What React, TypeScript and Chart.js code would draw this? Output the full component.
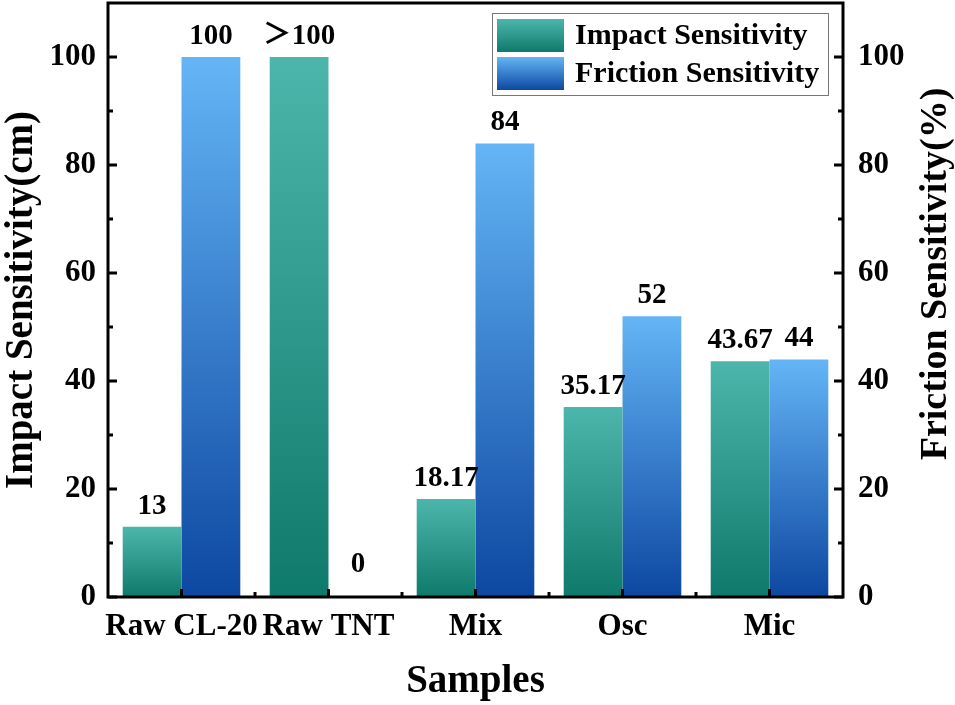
import { useEffect, useRef } from "react";
import { Chart, registerables } from "chart.js";
import type { Plugin, ScriptableContext, Scale } from "chart.js";

Chart.register(...registerables);

const categories = ["Raw CL-20", "Raw TNT", "Mix", "Osc", "Mic"];
const impactValues = [13, 100, 18.17, 35.17, 43.67];
const frictionValues = [100, 0, 84, 52, 44];
const impactLabels = ["13", "＞100", "18.17", "35.17", "43.67"];
const frictionLabels = ["100", "0", "84", "52", "44"];
const yTicks = [0, 20, 40, 60, 80, 100];
const minorTicks = [10, 30, 50, 70, 90];

const SERIF = "'Liberation Serif', 'Times New Roman', 'Noto Sans CJK SC', serif";
const TEAL = ["#4DB6AC", "#0E7A6B"];
const BLUE = ["#64B5F6", "#0D47A1"];

function barGradient(ctx: ScriptableContext<"bar">, colors: string[], axis: string) {
  const chart = ctx.chart;
  const scale = chart.scales[axis];
  if (ctx.type !== "data" || !scale) return colors[0];
  const v = ctx.raw as number;
  const y0 = scale.getPixelForValue(v);
  const y1 = scale.getPixelForValue(0);
  if (!isFinite(y0) || !isFinite(y1) || y1 - y0 < 1) return colors[0];
  const g = chart.ctx.createLinearGradient(0, y0, 0, y1);
  g.addColorStop(0, colors[0]);
  g.addColorStop(1, colors[1]);
  return g;
}

const noPad = (s: Scale) => {
  s.paddingTop = 0;
  s.paddingBottom = 0;
  s.paddingLeft = 0;
  s.paddingRight = 0;
};

const framePlugin: Plugin = {
  id: "frame",
  afterDatasetsDraw: (chart) => {
    const { ctx, chartArea: a, scales } = chart;
    ctx.save();
    // value labels above bars (zero bars get theirs a bit higher)
    ctx.font = `bold 29px ${SERIF}`;
    ctx.fillStyle = "#000";
    ctx.textAlign = "center";
    ctx.textBaseline = "alphabetic";
    const values = [impactValues, frictionValues];
    [impactLabels, frictionLabels].forEach((labels, di) => {
      const meta = chart.getDatasetMeta(di);
      meta.data.forEach((el: any, i) => {
        const off = values[di][i] === 0 ? 25 : 13;
        ctx.fillText(labels[i], el.x, el.y - off);
      });
    });

    // axis frame
    ctx.strokeStyle = "#000";
    ctx.lineWidth = 3;
    ctx.strokeRect(a.left, a.top, a.right - a.left, a.bottom - a.top);

    // inward ticks on both y axes
    const yl = scales.y;
    const all = [...yTicks.map((v) => [v, 9]), ...minorTicks.map((v) => [v, 5])];
    all.forEach(([v, len]) => {
      const py = yl.getPixelForValue(v);
      ctx.beginPath();
      ctx.moveTo(a.left, py);
      ctx.lineTo(a.left + len, py);
      ctx.moveTo(a.right, py);
      ctx.lineTo(a.right - len, py);
      ctx.stroke();
    });

    // bottom ticks: major at categories, minor between
    const xs = scales.x;
    categories.forEach((_, i) => {
      const px = xs.getPixelForValue(i);
      ctx.beginPath();
      ctx.moveTo(px, a.bottom);
      ctx.lineTo(px, a.bottom - 8);
      ctx.stroke();
      if (i < categories.length - 1) {
        const mx = (px + xs.getPixelForValue(i + 1)) / 2;
        ctx.beginPath();
        ctx.moveTo(mx, a.bottom);
        ctx.lineTo(mx, a.bottom - 5);
        ctx.stroke();
      }
    });

    // right axis title, reading bottom to top like the left one
    ctx.save();
    ctx.translate(chart.width - 19, (a.top + a.bottom) / 2 - 26);
    ctx.rotate(-Math.PI / 2);
    ctx.font = `bold 38px ${SERIF}`;
    ctx.textAlign = "center";
    ctx.textBaseline = "middle";
    ctx.fillText("Friction Sensitivity(%)", 0, 0);
    ctx.restore();

    // legend box
    const bw = 336;
    const bh = 82;
    const bx = a.right - 15 - bw;
    const by = a.top + 10;
    ctx.lineWidth = 1;
    ctx.strokeStyle = "#777";
    ctx.fillStyle = "#fff";
    ctx.fillRect(bx, by, bw, bh);
    ctx.strokeRect(bx + 0.5, by + 0.5, bw, bh);
    const items: [string, string[]][] = [
      ["Impact Sensitivity", TEAL],
      ["Friction Sensitivity", BLUE],
    ];
    items.forEach(([label, colors], i) => {
      const sy = by + 6 + i * 38;
      const g = ctx.createLinearGradient(0, sy, 0, sy + 33);
      g.addColorStop(0, colors[0]);
      g.addColorStop(1, colors[1]);
      ctx.fillStyle = g;
      ctx.fillRect(bx + 5, sy, 67, 33);
      ctx.fillStyle = "#000";
      ctx.font = `bold 30px ${SERIF}`;
      ctx.textAlign = "left";
      ctx.textBaseline = "middle";
      ctx.fillText(label, bx + 83, sy + 17);
    });
    ctx.restore();
  },
};

export default function App() {
  const ref = useRef<HTMLCanvasElement>(null);

  useEffect(() => {
    document.body.style.margin = "0";
    if (!ref.current) return;
    const tickFont = { family: SERIF, size: 31, weight: "bold" as const };
    const titleFont = { family: SERIF, size: 39, weight: "bold" as const, lineHeight: 1 };
    const chart = new Chart(ref.current, {
      type: "bar",
      plugins: [framePlugin],
      data: {
        labels: categories,
        datasets: [
          {
            label: "Impact Sensitivity",
            data: impactValues,
            yAxisID: "y",
            backgroundColor: (c: ScriptableContext<"bar">) => barGradient(c, TEAL, "y"),
            borderWidth: 0,
            categoryPercentage: 0.8,
            barPercentage: 1,
          },
          {
            label: "Friction Sensitivity",
            data: frictionValues,
            yAxisID: "y1",
            backgroundColor: (c: ScriptableContext<"bar">) => barGradient(c, BLUE, "y1"),
            borderWidth: 0,
            categoryPercentage: 0.8,
            barPercentage: 1,
          },
        ],
      },
      options: {
        animation: false,
        responsive: true,
        maintainAspectRatio: false,
        layout: { padding: { top: 3, left: 2, right: 0, bottom: 0 } },
        plugins: {
          legend: { display: false },
          tooltip: { enabled: false },
        },
        scales: {
          x: {
            grid: { display: false, drawTicks: false },
            border: { display: false },
            ticks: { color: "#000", font: tickFont, padding: 11, maxRotation: 0, autoSkip: false },
            title: { display: true, text: "Samples", color: "#000", font: titleFont, padding: { top: 0, bottom: 4 } },
            afterFit: (s) => {
              noPad(s);
              s.height = 108;
            },
          },
          y: {
            position: "left",
            min: 0,
            max: 110,
            afterBuildTicks: (s) => {
              s.ticks = yTicks.map((v) => ({ value: v }));
            },
            grid: { display: false, drawTicks: false },
            border: { display: false },
            ticks: { color: "#000", font: tickFont, padding: 12 },
            title: { display: true, text: "Impact Sensitivity(cm)", color: "#000", font: titleFont, padding: { top: 0, bottom: 0 } },
            afterFit: (s) => {
              noPad(s);
              s.width = 106;
            },
          },
          y1: {
            position: "right",
            min: 0,
            max: 110,
            afterBuildTicks: (s) => {
              s.ticks = yTicks.map((v) => ({ value: v }));
            },
            grid: { display: false, drawTicks: false },
            border: { display: false },
            ticks: { color: "#000", font: tickFont, padding: 15 },
            afterFit: (s) => {
              noPad(s);
              s.width = 112;
            },
          },
        },
      },
    });
    return () => chart.destroy();
  }, []);

  return (
    <div style={{ width: 955, height: 705, position: "relative", background: "#fff" }}>
      <canvas ref={ref} />
    </div>
  );
}
